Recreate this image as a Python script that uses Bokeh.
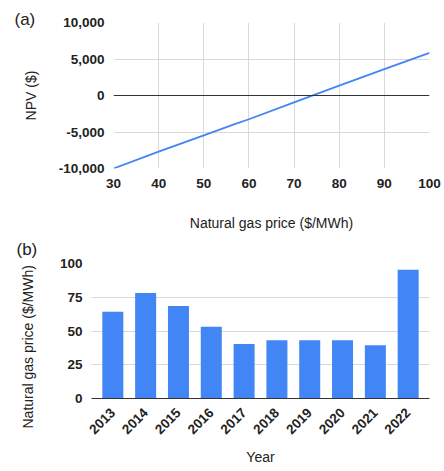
import math
from bokeh.plotting import figure
from bokeh.models import (ColumnDataSource, FactorRange, Range1d, FixedTicker,
                          NumeralTickFormatter, Span, Title)
from bokeh.layouts import column
from bokeh.embed import file_html
from bokeh.resources import INLINE

# ---- data ----
gas_price = [30, 40, 50, 57, 60, 70, 80, 90, 100]
npv = [-10000, -7700, -5450, -3900, -3250, -950, 1350, 3600, 5850]

years = ["2013", "2014", "2015", "2016", "2017", "2018", "2019", "2020", "2021", "2022"]
prices = [64.3, 78.1, 68.5, 53.2, 40.4, 43.1, 43.1, 43.1, 39.4, 95.3]

npv_ticks = [-10000, -5000, 0, 5000, 10000]
price_ticks = [30, 40, 50, 60, 70, 80, 90, 100]
bar_ticks = [0, 25, 50, 75, 100]

BLUE = "#4285F4"
FONT = "Liberation Sans"
TICK_SIZE = "13.5px"
TITLE_SIZE = "14px"
TEXT_COL = "#222222"
GRID_COL = "#d9d9d9"


def style_axes(p):
    for ax in (p.xaxis[0], p.yaxis[0]):
        ax.major_label_text_font = FONT
        ax.major_label_text_font_size = TICK_SIZE
        ax.major_label_text_font_style = "bold"
        ax.major_label_text_color = TEXT_COL
        ax.axis_label_text_font = FONT
        ax.axis_label_text_font_size = TITLE_SIZE
        ax.axis_label_text_font_style = "normal"
        ax.axis_label_text_color = TEXT_COL
        ax.major_tick_line_color = None
        ax.minor_tick_line_color = None
        ax.major_tick_out = 0
        ax.major_tick_in = 0
    p.xaxis.major_label_standoff = 10
    p.yaxis.major_label_standoff = 9


def panel_title(t, text, offset, standoff, valign, size="17px"):
    t.text = text
    t.align = "left"
    t.offset = offset
    t.standoff = standoff
    t.vertical_align = valign
    t.text_font = FONT
    t.text_font_size = size
    t.text_font_style = "normal"
    t.text_color = TEXT_COL


# ---- (a) NPV vs gas price ----
p1 = figure(width=444, height=236, output_backend="svg", toolbar_location=None,
            x_range=Range1d(30, 100), y_range=Range1d(-10000, 10000),
            min_border_left=113, min_border_right=15, min_border_top=22,
            min_border_bottom=68, frame_align=False)
p1.outline_line_color = None
p1.background_fill_color = "white"
p1.border_fill_color = "white"
src1 = ColumnDataSource(dict(x=gas_price, y=npv))
p1.line("x", "y", source=src1, line_color=BLUE, line_width=1.8)
p1.add_layout(Span(location=0, dimension="width", line_color="#333333", line_width=1))
p1.xaxis.ticker = FixedTicker(ticks=price_ticks)
p1.yaxis.ticker = FixedTicker(ticks=npv_ticks)
p1.yaxis.formatter = NumeralTickFormatter(format="0,0")
p1.xaxis.axis_label = "Natural gas price ($/MWh)"
p1.yaxis.axis_label = "NPV ($)"
style_axes(p1)
p1.xaxis.axis_line_color = None
p1.yaxis.axis_line_color = None
p1.xaxis.axis_label_standoff = 24
p1.yaxis.axis_label_standoff = 17
p1.xgrid.grid_line_color = GRID_COL
p1.ygrid.grid_line_color = GRID_COL
panel_title(p1.title, "(a)", -99, -12, "bottom")

# ---- (b) yearly gas price ----
p2 = figure(width=444, height=235, output_backend="svg", toolbar_location=None,
            x_range=FactorRange(*years, range_padding=0.03), y_range=Range1d(0, 100),
            min_border_left=89, min_border_right=15, min_border_top=27,
            min_border_bottom=73, frame_align=False)
p2.outline_line_color = None
p2.background_fill_color = "white"
p2.border_fill_color = "white"
src2 = ColumnDataSource(dict(year=years, price=prices))
p2.vbar(x="year", top="price", width=0.64, source=src2, color=BLUE, line_color=None)
p2.yaxis.ticker = FixedTicker(ticks=bar_ticks)
p2.xaxis.axis_label = "Year"
style_axes(p2)
p2.xaxis.major_label_standoff = 12
p2.xaxis.major_label_orientation = math.pi / 4
p2.xaxis.axis_line_color = "#333333"
p2.yaxis.axis_line_color = None
p2.xaxis.axis_label_standoff = 8
p2.xgrid.grid_line_color = None
p2.ygrid.grid_line_color = GRID_COL
panel_title(p2.title, "(b)", -75, 5, "top")
ytitle = Title()
panel_title(ytitle, "Natural gas price ($/MWh)", -30, 38, "top", size=TITLE_SIZE)
p2.add_layout(ytitle, "left")

layout = column(p1, p2, spacing=0)
open("out.html", "w").write(file_html(layout, INLINE))
